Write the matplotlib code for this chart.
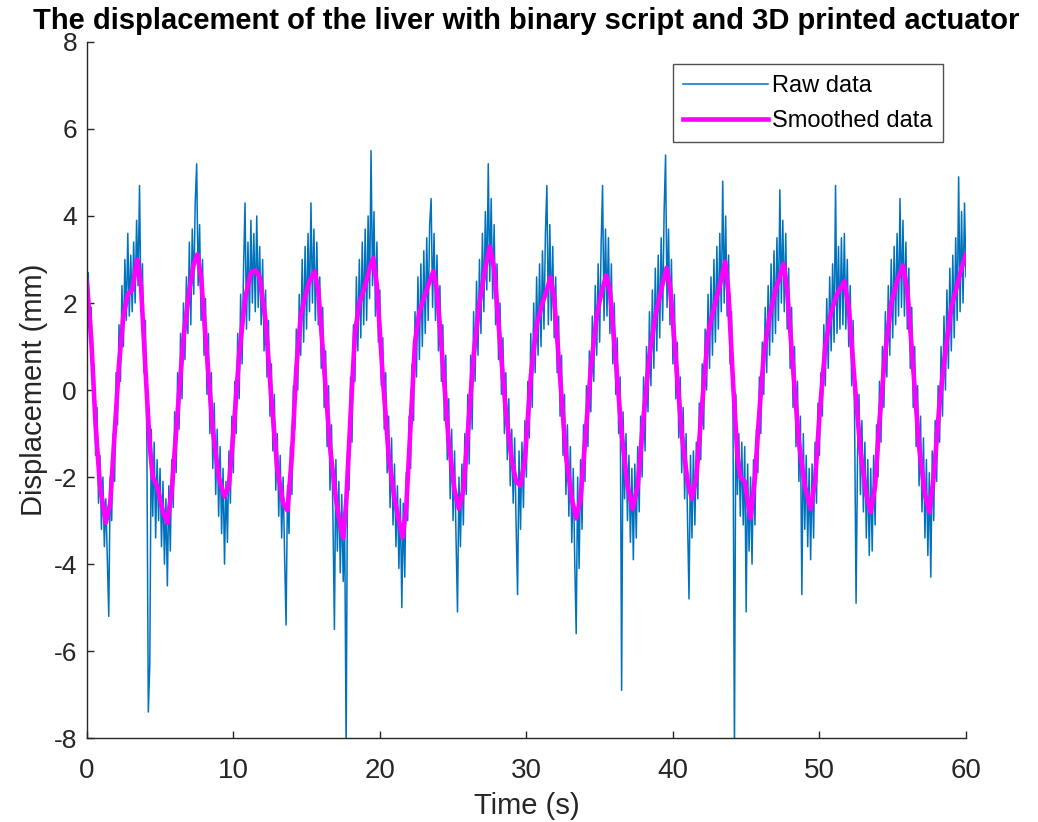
import numpy as np
import matplotlib
matplotlib.use("Agg")
import matplotlib.pyplot as plt
from matplotlib import font_manager

# raw samples, one every 0.1 s from 0 to 60 s (10 per row = 1 s)
raw_y = [
  2.6, 2.7, 1.1, 1.9, 0.2, 0.6, -1.5, -0.4, -2.6, -1.5,
  -3.2, -2.0, -3.6, -2.5, -3.9, -5.2, -2.0, -3.0, -1.0, -2.1,
  0.4, -0.8, 1.5, 0.2, 2.4, 1.0, 3.0, 1.6, 3.6, 1.7,
  3.1, 1.8, 3.4, 2.0, 3.9, 2.4, 4.7, 1.8, 2.9, 0.4,
  1.6, -1.2, -7.4, -6.3, -0.9, -2.9, -1.2, -3.4, -1.6, -3.0,
  -1.8, -3.6, -2.1, -4.0, -2.5, -4.5, -2.2, -3.7, -1.6, -2.7,
  -0.5, -1.9, 0.4, -0.9, 1.3, -0.2, 2.0, 0.7, 2.6, 1.3,
  3.4, 1.5, 3.7, 2.2, 4.3, 5.2, 2.4, 3.8, 1.6, 3.0,
  0.8, 2.1, -0.1, 1.3, -1.0, 0.4, -1.8, -0.3, -2.4, -0.9,
  -2.9, -1.3, -3.3, -1.8, -4.0, -2.1, -3.5, -1.4, -2.6, -0.6,
  -1.9, 0.2, -1.0, 1.3, -0.2, 2.2, 0.6, 2.8, 4.3, 1.4,
  3.4, 1.6, 3.9, 2.0, 3.6, 1.8, 4.0, 1.9, 3.3, 1.5,
  3.0, 0.9, 2.3, 0.3, 1.6, -0.6, 0.6, -1.4, -0.1, -2.3,
  -1.0, -2.9, -1.5, -3.4, -2.0, -3.8, -5.4, -2.2, -3.3, -1.3,
  -2.4, 0.1, -0.9, 1.4, 0.0, 2.2, 0.8, 3.0, 1.1, 3.3,
  1.4, 3.6, 1.8, 4.3, 2.0, 3.7, 1.6, 3.4, 1.5, 2.6,
  0.5, 1.9, -0.4, 0.9, -1.3, 0.1, -2.3, -0.8, -2.9, -5.5,
  -1.6, -3.7, -2.1, -4.2, -2.4, -4.4, -3.0, -8.3, -1.4, -2.3,
  0.3, -1.2, 1.5, 0.2, 2.6, 0.9, 3.0, 1.2, 3.4, 1.5,
  3.7, 1.6, 4.0, 2.1, 5.5, 2.4, 4.1, 1.7, 3.4, 1.1,
  2.3, 0.1, 1.2, -0.9, 0.4, -1.9, -0.6, -2.7, -1.1, -3.1,
  -1.7, -3.6, -2.2, -4.1, -2.5, -5.0, -2.6, -4.3, -1.9, -3.0,
  -0.6, -1.8, 0.6, -0.7, 1.8, 0.3, 2.6, 0.7, 2.9, 1.0,
  3.2, 1.3, 3.5, 1.6, 3.8, 4.4, 1.9, 3.6, 1.6, 3.1,
  0.9, 2.4, 0.2, 1.5, -0.7, 0.8, -1.6, -0.2, -2.5, -0.9,
  -3.0, -1.4, -3.4, -5.1, -2.0, -3.6, -1.7, -3.1, -1.0, -2.4,
  -0.1, -1.7, 0.8, -0.9, 1.8, 0.2, 2.5, 0.8, 3.0, 1.3,
  3.6, 1.8, 4.1, 2.3, 5.2, 2.5, 4.4, 2.1, 3.8, 1.5,
  2.9, 0.7, 2.0, -0.1, 1.2, -1.0, 0.4, -1.6, -0.2, -2.2,
  -0.9, -2.6, -1.1, -3.1, -4.7, -1.4, -3.2, -1.2, -2.7, -0.7,
  -2.0, 0.2, -1.1, 1.3, -0.4, 2.0, 0.4, 2.6, 0.8, 2.9,
  1.0, 3.2, 1.4, 3.6, 4.7, 1.5, 3.8, 1.6, 3.3, 1.2,
  2.6, 0.4, 1.7, -0.6, 0.8, -1.5, -0.1, -2.4, -0.8, -2.9,
  -1.3, -3.5, -1.8, -3.9, -5.6, -2.0, -4.1, -1.6, -3.2, -0.8,
  -2.1, 0.1, -1.3, 0.9, -0.5, 1.7, 0.2, 2.4, 0.8, 2.9,
  1.1, 3.3, 4.7, 1.6, 3.7, 1.7, 3.5, 1.3, 2.9, 0.6,
  2.0, -0.1, 1.2, -1.0, 0.3, -6.9, -0.5, -2.5, -1.0, -3.0,
  -1.5, -3.5, -1.8, -3.9, -1.7, -3.4, -1.3, -2.8, -0.6, -2.0,
  0.3, -1.4, 1.0, -0.5, 1.8, 0.1, 2.3, 0.5, 2.8, 0.9,
  3.1, 1.2, 3.5, 1.6, 4.1, 5.4, 1.9, 3.7, 1.5, 3.0,
  0.6, 2.2, -0.2, 1.1, -1.1, 0.3, -1.9, -0.4, -2.5, -1.0,
  -3.0, -4.8, -1.5, -3.4, -1.4, -3.1, -1.2, -2.5, -0.3, -1.6,
  0.6, -0.9, 1.4, 0.0, 2.2, 0.5, 2.6, 0.8, 3.0, 1.1,
  3.3, 1.4, 3.6, 1.8, 4.8, 2.0, 4.0, 1.7, 3.1, 0.6,
  1.8, -0.5, -8.4, -0.1, -2.4, -1.0, -2.9, -1.2, -3.1, -1.3,
  -5.1, -1.7, -3.7, -2.0, -4.0, -1.6, -3.1, -0.9, -1.9, 0.3,
  -1.0, 1.1, -0.1, 1.9, 0.4, 2.4, 0.8, 2.9, 1.1, 3.2,
  1.3, 3.5, 1.6, 4.6, 2.0, 3.9, 1.8, 3.6, 1.4, 2.8,
  0.5, 1.9, -0.4, 1.0, -1.3, 0.2, -2.1, -0.6, -4.7, -1.0,
  -3.2, -1.5, -3.6, -1.8, -3.9, -1.7, -3.4, -1.2, -2.6, -0.3,
  -1.5, 0.4, -0.6, 1.5, 0.1, 2.1, 0.5, 2.6, 0.9, 2.9,
  1.1, 4.7, 1.3, 3.3, 1.4, 3.5, 1.5, 3.6, 1.4, 3.0,
  1.0, 2.4, 0.1, 1.6, -0.7, -4.9, -1.5, -0.1, -2.4, -0.7,
  -2.8, -1.2, -3.4, -1.6, -3.8, -1.8, -3.7, -1.5, -3.1, -0.8,
  -2.0, 0.2, -1.2, 1.0, -0.4, 1.8, 0.3, 2.4, 0.8, 3.0,
  1.2, 3.3, 1.5, 3.6, 1.7, 4.4, 1.9, 3.9, 1.7, 3.4,
  1.4, 2.8, 0.5, 1.9, -0.4, 1.0, -1.3, 0.1, -2.2, -0.6,
  -2.8, -1.1, -3.4, -1.6, -3.8, -1.9, -4.3, -1.4, -3.0, -0.7,
  -2.1, 0.1, -1.2, 1.0, -0.6, 1.7, 0.0, 2.3, 0.5, 2.8,
  0.9, 3.1, 1.2, 3.5, 1.6, 4.9, 1.8, 4.1, 2.0, 4.3,
  2.6,
]
raw_t = np.arange(len(raw_y)) * 0.1

# smoothed curve, key points
smooth_t = [
  0.0, 0.3, 0.6, 0.9, 1.3, 1.6, 1.9, 2.2, 2.5, 2.8, 3.1, 3.45, 3.7,
  4.0, 4.3, 4.5, 4.8, 5.2, 5.5, 5.8, 6.2, 6.6, 7.0, 7.3, 7.55, 7.8,
  8.2, 8.6, 9.0, 9.4, 9.7, 10.0, 10.4, 10.8, 11.2, 11.5, 11.8,
  12.2, 12.6, 13.0, 13.4, 13.7, 14.0, 14.3, 14.6, 14.9, 15.2, 15.55, 15.8,
  16.2, 16.6, 17.0, 17.3, 17.5, 17.7, 18.0, 18.3, 18.6, 19.0, 19.3, 19.55, 19.8,
  20.2, 20.6, 21.0, 21.3, 21.55, 21.8, 22.1, 22.4, 22.7, 23.0, 23.3, 23.65, 23.9,
  24.3, 24.7, 25.1, 25.4, 25.7, 26.0, 26.4, 26.8, 27.2, 27.5, 27.8,
  28.2, 28.6, 29.0, 29.3, 29.6, 29.9, 30.3, 30.7, 31.1, 31.4, 31.65, 31.9,
  32.3, 32.7, 33.1, 33.4, 33.7, 34.0, 34.4, 34.8, 35.1, 35.45, 35.7,
  36.1, 36.5, 36.9, 37.25, 37.6, 38.0, 38.4, 38.8, 39.2, 39.57, 39.8,
  40.2, 40.6, 41.0, 41.3, 41.6, 42.0, 42.4, 42.8, 43.2, 43.57, 43.8,
  44.1, 44.4, 44.6, 44.9, 45.3, 45.6, 45.9, 46.2, 46.6, 47.0, 47.3, 47.56, 47.8,
  48.2, 48.6, 49.0, 49.4, 49.7, 50.0, 50.4, 50.8, 51.2, 51.7,
  52.0, 52.4, 52.8, 53.2, 53.5, 53.8, 54.1, 54.5, 54.9, 55.3, 55.7,
  56.0, 56.4, 56.8, 57.2, 57.5, 57.8, 58.2, 58.6, 59.0, 59.4, 59.7, 60.0,
]
smooth_y = [
  2.5, 1.2, -0.8, -2.2, -3.05, -2.6, -1.0, 0.6, 1.7, 2.2, 2.3, 3.0, 2.4,
  0.5, -1.3, -2.0, -2.2, -2.8, -3.05, -2.3, -0.5, 1.2, 2.3, 2.9, 3.12, 2.6,
  0.8, -0.9, -2.0, -2.45, -2.2, -1.0, 0.8, 2.1, 2.7, 2.75, 2.6,
  1.6, -0.2, -1.8, -2.6, -2.77, -1.5, 0.5, 1.7, 2.15, 2.5, 2.73, 2.3,
  0.5, -1.3, -2.5, -3.1, -3.4, -2.6, -0.6, 1.3, 2.0, 2.4, 2.8, 3.03, 2.4,
  0.3, -1.5, -2.5, -3.0, -3.39, -2.7, -0.8, 1.1, 1.8, 2.1, 2.4, 2.73, 2.3,
  0.6, -1.2, -2.3, -2.73, -2.3, -1.0, 0.8, 2.0, 2.8, 3.3, 2.8,
  1.1, -0.5, -1.6, -2.1, -2.2, -1.6, 0.3, 1.5, 2.0, 2.3, 2.6, 2.1,
  0.3, -1.5, -2.5, -2.95, -2.5, -1.2, 0.5, 1.7, 2.2, 2.64, 2.3,
  0.7, -1.0, -2.2, -2.73, -2.2, -0.6, 0.8, 1.7, 2.3, 2.81, 2.4,
  0.7, -1.0, -2.1, -2.5, -2.0, -0.3, 1.3, 1.9, 2.4, 2.95, 2.2,
  0.2, -1.5, -2.0, -2.1, -2.95, -2.0, -0.5, 0.8, 1.7, 2.3, 2.6, 2.9, 2.3,
  0.5, -1.2, -2.2, -2.73, -2.1, -0.6, 1.0, 1.8, 2.2, 2.5,
  1.9, 0.2, -1.4, -2.4, -2.81, -2.2, -0.7, 0.9, 2.0, 2.5, 2.86,
  2.3, 0.5, -1.3, -2.4, -2.81, -2.0, -0.3, 0.9, 1.9, 2.4, 2.8, 3.12,
]

installed = {f.name for f in font_manager.fontManager.ttflist}
narrow = "Liberation Sans Narrow" if "Liberation Sans Narrow" in installed else "Liberation Sans"
plt.rcParams['font.family'] = ['Liberation Sans', 'DejaVu Sans']
plt.rcParams['axes.unicode_minus'] = False

fig = plt.figure(figsize=(10.38, 8.22), dpi=100)
ax = fig.add_axes([0.0836, 0.102, 0.847, 0.847])

ax.plot(raw_t, raw_y, color='#0072BD', lw=1.1, label='Raw data')
ax.plot(smooth_t, smooth_y, color='#FF00FF', lw=3.3, label='Smoothed data')

ax.set_xlim(0, 60)
ax.set_ylim(-8, 8)
ax.set_xticks(range(0, 61, 10))
ax.set_yticks(range(-8, 9, 2))

for side in ['top', 'right']:
  ax.spines[side].set_visible(False)
for side in ['left', 'bottom']:
  ax.spines[side].set_color('#262626')
  ax.spines[side].set_linewidth(1.0)
ax.tick_params(direction='in', length=5, width=1, colors='#262626', labelsize=19)
ax.tick_params(axis='x', pad=14)
ax.tick_params(axis='y', pad=7)
for lab in ax.get_xticklabels():
  lab.set_family(narrow)
  lab.set_fontsize(20)

ax.set_xlabel('Time (s)', fontsize=21, color='#262626', labelpad=6)
ax.set_ylabel('Displacement (mm)', fontsize=21, color='#262626', labelpad=4)
ax.set_title('The displacement of the liver with binary script and 3D printed actuator',
             fontsize=21, fontweight='bold', family=[narrow, 'Liberation Sans'], pad=9.5)

leg = ax.legend(loc='upper right', bbox_to_anchor=(0.974, 0.968), fontsize=17,
                frameon=True, fancybox=False, handlelength=3.6, handletextpad=0.15,
                borderpad=0.45, labelspacing=0.55, borderaxespad=0)
leg.get_frame().set_edgecolor('#262626')
leg.get_frame().set_linewidth(1.0)

fig.savefig('out.png', dpi=100)
